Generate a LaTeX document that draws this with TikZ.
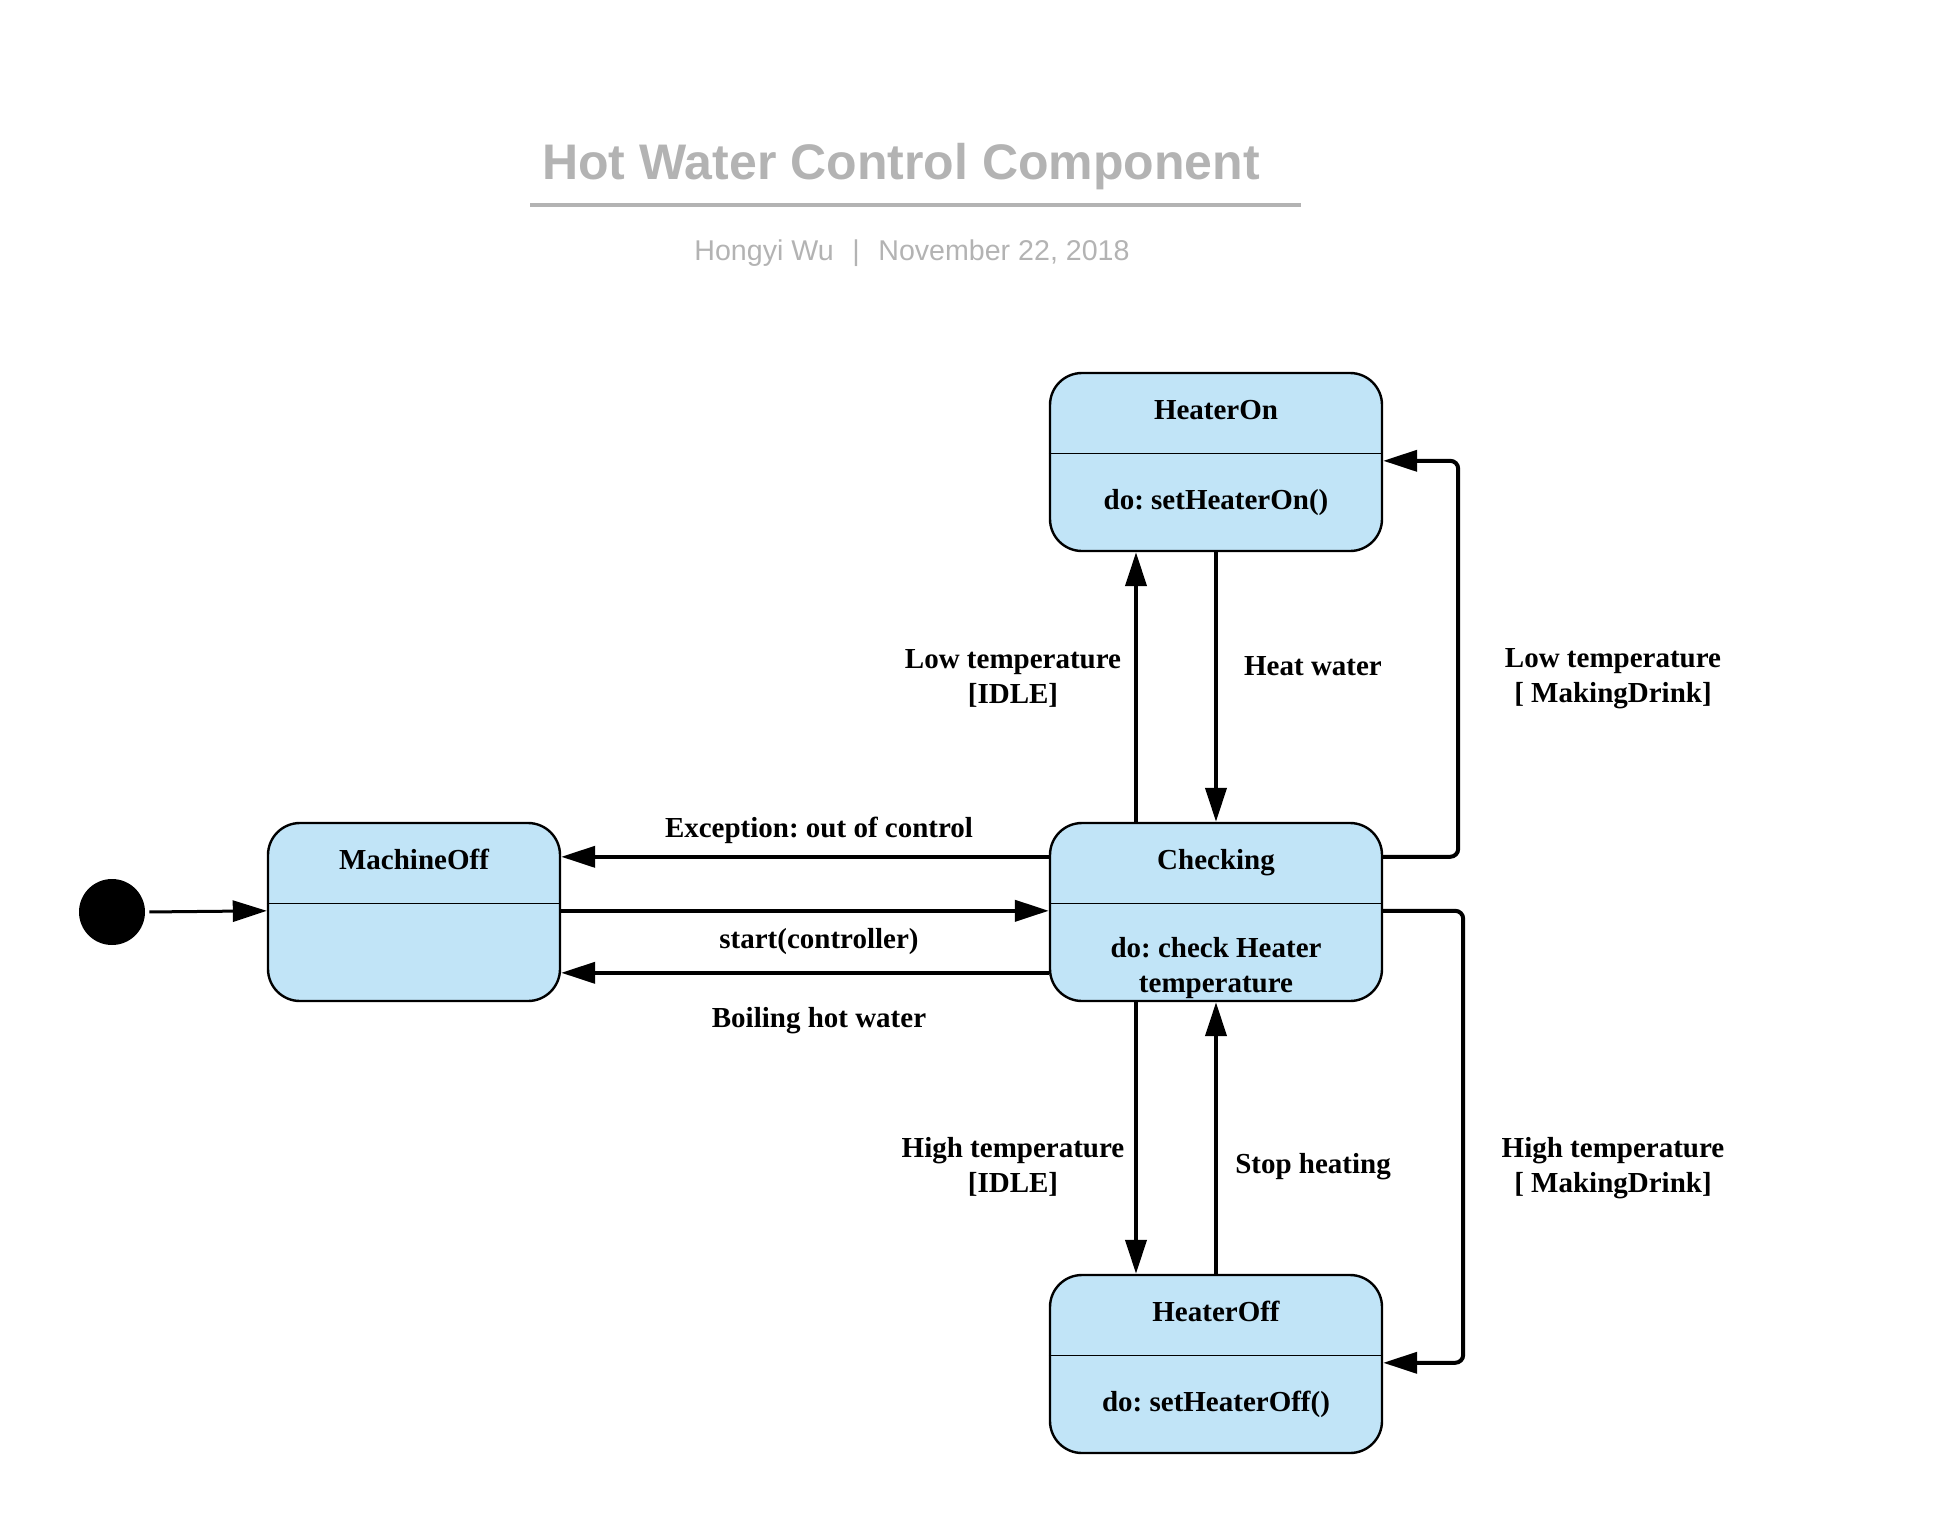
\documentclass[tikz,border=0pt]{standalone}
\usepackage{fontspec}
\setmainfont{Liberation Serif}
\newfontfamily\sansfont{Liberation Sans}
\usetikzlibrary{arrows.meta,calc}
\definecolor{stfill}{HTML}{C1E4F7}
\definecolor{titlegray}{HTML}{B3B3B3}
\frenchspacing
\begin{document}
\begin{tikzpicture}[x=0.5pt,y=-0.5pt,
  state/.style={draw=black,line width=1.2pt,fill=stfill,rounded corners=16pt,minimum width=166pt,minimum height=89pt,inner sep=0pt},
  stext/.style={font=\bfseries\fontsize{14.5}{17.5}\selectfont,align=center,inner sep=0pt},
  lbl/.style={font=\bfseries\fontsize{14.5}{17.5}\selectfont,align=center,inner sep=0pt},
  edge/.style={line width=2pt,-{Triangle[length=17pt,width=10.5pt]},rounded corners=4pt},
  initedge/.style={line width=1.5pt,-{Triangle[length=17pt,width=10.5pt]}},
  divider/.style={line width=0.6pt}]
\useasboundingbox (0,0) rectangle (1950,1526);

% title block
\node[font=\sansfont\bfseries\fontsize{25}{30}\selectfont,text=titlegray,anchor=base,inner sep=0pt] (title) at (901,179) {Hot Water Control Component};
\draw[titlegray,line width=2pt] (530,205) -- (1301,205);
\node[font=\sansfont\fontsize{14.3}{16}\selectfont,text=titlegray,anchor=base,inner sep=0pt] (sub) at (912,260) {Hongyi Wu\hspace{0.65em}|\hspace{0.65em}November 22, 2018};

% states
\node[state] (hon) at (1216,462) {};
\node[state] (chk) at (1216,912) {};
\node[state] (hof) at (1216,1364) {};
\node[state,minimum width=146pt] (mo) at (414,912) {};
\foreach \s in {hon,chk,hof,mo}{
  \draw[divider] ([yshift=-41pt]\s.north west) -- ([yshift=-41pt]\s.north east);
}
\node[stext,anchor=base] (hon-t) at ([yshift=-23.75pt]hon.north) {HeaterOn};
\node[stext,anchor=base] (hon-b) at ([yshift=-69pt]hon.north) {do: setHeaterOn()};
\node[stext,anchor=base] (chk-t) at ([yshift=-23.75pt]chk.north) {Checking};
\node[stext] (chk-b) at ([yshift=-73pt]chk.north) {do: check Heater\\temperature};
\node[stext,anchor=base] (hof-t) at ([yshift=-23.75pt]hof.north) {HeaterOff};
\node[stext,anchor=base] (hof-b) at ([yshift=-69pt]hof.north) {do: setHeaterOff()};
\node[stext,anchor=base] (mo-t) at ([yshift=-23.75pt]mo.north) {MachineOff};

% initial state
\node[circle,fill=black,minimum size=33pt,inner sep=0pt] (init) at (112,912) {};
\draw[initedge,shorten <=2pt] (init.east) -- ([yshift=-44.5pt]mo.north west);

% transitions
\draw[edge] ([xshift=-40pt]chk.north) -- ([xshift=-40pt]hon.south);
\draw[edge] (hon.south) -- (chk.north);
\draw[edge] ([yshift=-17.5pt]chk.north east) -- ++(37.5pt,0) |- ([yshift=-44.5pt]hon.north east);
\draw[edge] ([yshift=-17.5pt]chk.north west) -- ([yshift=-17.5pt]mo.north east);
\draw[edge] ([yshift=-44.5pt]mo.north east) -- ([yshift=-44.5pt]chk.north west);
\draw[edge] ([yshift=-75.5pt]chk.north west) -- ([yshift=-75.5pt]mo.north east);
\draw[edge] ([xshift=-40pt]chk.south) -- ([xshift=-40pt]hof.north);
\draw[edge] (hof.north) -- (chk.south);
\draw[edge] ([yshift=-44.5pt]chk.north east) -- ++(40pt,0) |- ([yshift=-44.5pt]hof.north east);

% labels
\node[lbl] (l1) at (1013,678) {Low temperature\\{}[IDLE]};
\node[lbl,anchor=base] (l2) at (1313,675) {Heat water};
\node[lbl] (l3) at (1613,679) {Low temperature\\{}[ MakingDrink]};
\node[lbl,anchor=base] (l4) at (819,837) {Exception: out of control};
\node[lbl,anchor=base] (l5) at (819,948) {start(controller)};
\node[lbl,anchor=base] (l6) at (819,1027) {Boiling hot water};
\node[lbl] (l7) at (1013,1167) {High temperature\\{}[IDLE]};
\node[lbl,anchor=base] (l8) at (1313,1173) {Stop heating};
\node[lbl] (l9) at (1613,1168) {High temperature\\{}[ MakingDrink]};
\end{tikzpicture}
\end{document}
